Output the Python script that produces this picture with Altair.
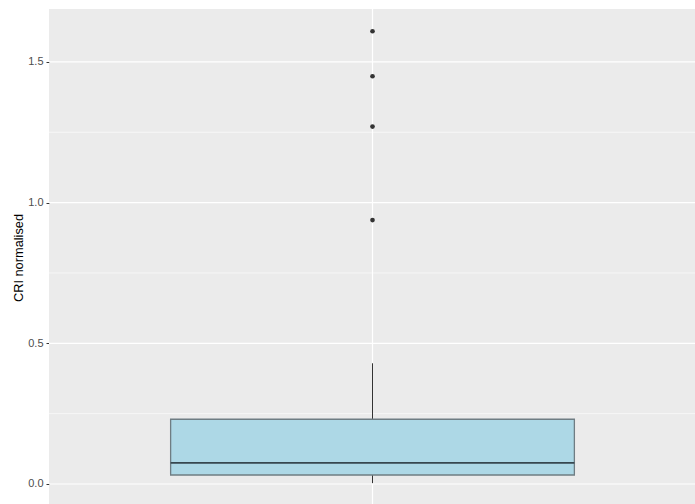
import altair as alt
import pandas as pd

# Five-number summary of the CRI normalised distribution and its outliers
box_x = [1.0]
q1 = [0.032]
median = [0.075]
q3 = [0.230]
whisker_low = [0.003]
whisker_high = [0.429]
outliers = [0.938, 1.270, 1.449, 1.609]

# Y gridlines
major_breaks = [0.0, 0.5, 1.0, 1.5]
minor_breaks = [0.25, 0.75, 1.25]

PLOT_W, PLOT_H = 646, 495
Y_DOMAIN = [-0.0711, 1.688]
# half-pixel shift keeps the centre line on a crisp pixel column
X_SHIFT = 0.5 * 1.2 / PLOT_W
X_DOMAIN = [0.4 - X_SHIFT, 1.6 - X_SHIFT]
BOX_HALF = 0.375

yscale = alt.Scale(domain=Y_DOMAIN, nice=False, zero=False)
xscale = alt.Scale(domain=X_DOMAIN, nice=False, zero=False)

summary = pd.DataFrame({
    "x": box_x,
    "x_lo": [v - BOX_HALF for v in box_x],
    "x_hi": [v + BOX_HALF for v in box_x],
    "q1": q1, "median": median, "q3": q3,
    "lo": whisker_low, "hi": whisker_high,
})
out_df = pd.DataFrame({"x": box_x * len(outliers), "y": outliers})
major_df = pd.DataFrame({"y": major_breaks})
minor_df = pd.DataFrame({"y": minor_breaks})

yaxis = alt.Axis(
    values=major_breaks, format=".1f", title="CRI normalised",
    grid=False, domain=False, tickColor="#333333", tickSize=3, tickWidth=1,
    labelColor="#4D4D4D", labelFontSize=11, labelPadding=3,
    labelFont="Liberation Sans", titleFont="Liberation Sans",
    titleFontSize=12.8, titleFontWeight="normal", titleColor="#000000",
    titleX=-30.5, titleY=248.5, titleBaseline="middle", titleAngle=-90,
)

minor_grid = alt.Chart(minor_df).mark_rule(color="white", strokeWidth=0.6).encode(
    y=alt.Y("y:Q", scale=yscale, axis=yaxis),
    x=alt.value(0), x2=alt.value(PLOT_W),
)
major_grid = alt.Chart(major_df).mark_rule(color="white", strokeWidth=1.2).encode(
    y=alt.Y("y:Q", scale=yscale),
    x=alt.value(0), x2=alt.value(PLOT_W),
)
vgrid = alt.Chart(summary).mark_rule(color="white", strokeWidth=1.2).encode(
    x=alt.X("x:Q", scale=xscale, axis=None),
    y=alt.value(0), y2=alt.value(PLOT_H),
)

upper_whisker = alt.Chart(summary).mark_rule(color="#333333", strokeWidth=1).encode(
    x=alt.X("x:Q", scale=xscale, axis=None),
    y=alt.Y("q3:Q", scale=yscale), y2="hi:Q",
)
lower_whisker = alt.Chart(summary).mark_rule(color="#333333", strokeWidth=1).encode(
    x=alt.X("x:Q", scale=xscale, axis=None),
    y=alt.Y("q1:Q", scale=yscale), y2="lo:Q",
)
box = alt.Chart(summary).mark_rect(
    fill="#ADD8E6", stroke="#6F7D83", strokeWidth=1.3
).encode(
    x=alt.X("x_lo:Q", scale=xscale, axis=None), x2="x_hi:Q",
    y=alt.Y("q1:Q", scale=yscale), y2="q3:Q",
)
median_line = alt.Chart(summary).mark_rule(color="#37474F", strokeWidth=1.6).encode(
    x=alt.X("x_lo:Q", scale=xscale, axis=None), x2="x_hi:Q",
    y=alt.Y("median:Q", scale=yscale),
)
points = alt.Chart(out_df).mark_circle(color="#333333", opacity=1, size=22).encode(
    x=alt.X("x:Q", scale=xscale, axis=None),
    y=alt.Y("y:Q", scale=yscale),
)

chart = alt.layer(
    minor_grid, major_grid, vgrid, upper_whisker, lower_whisker, box, median_line, points
).properties(
    width=PLOT_W, height=PLOT_H,
    autosize=alt.AutoSizeParams(type="none"),
    padding={"left": 49, "top": 9, "right": 0, "bottom": 0},
    background="white",
).configure_view(
    fill="#EBEBEB", strokeWidth=0
)

chart.save("out.html", embed_options={"renderer": "svg", "actions": False})
